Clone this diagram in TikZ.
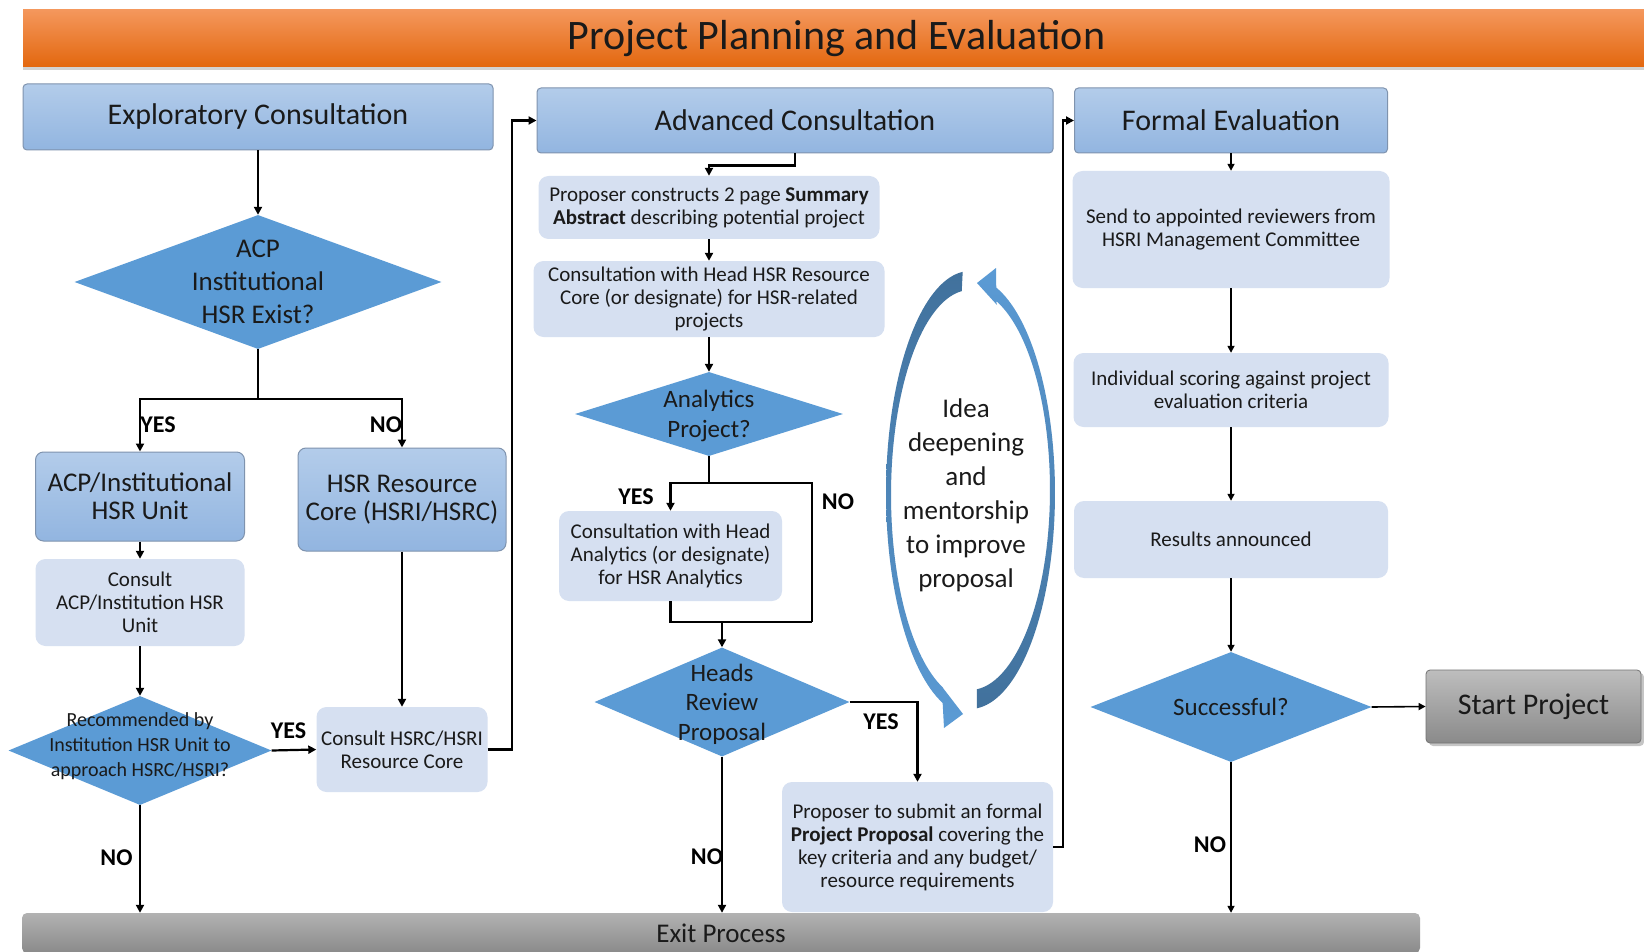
\documentclass[tikz,border=0pt]{standalone}
\usepackage{fontspec}
\setmainfont{Carlito}
\usetikzlibrary{shapes.geometric,arrows.meta,shadows,calc}
\definecolor{hdrtop}{HTML}{B3CCEA}
\definecolor{hdrbot}{HTML}{92B5E0}
\definecolor{hdrline}{HTML}{7F93AE}
\definecolor{lboxfill}{HTML}{D6E0F1}
\definecolor{diafill}{HTML}{5B9BD5}
\definecolor{cycdark}{HTML}{41719C}
\definecolor{cyclight}{HTML}{5B9BD5}
\definecolor{orgtop}{HTML}{F4975C}
\definecolor{orgmid}{HTML}{F47C2A}
\definecolor{orgbot}{HTML}{E3670E}
\definecolor{graytop}{HTML}{B2B2B2}
\definecolor{graybot}{HTML}{8A8A8A}
\definecolor{txt}{HTML}{1A1A1A}
\newcommand\myfs[2]{\fontsize{#1}{#2}\selectfont}
\begin{document}
\begin{tikzpicture}[x=1pt,y=-1pt,
  hdr/.style={rectangle, rounded corners=4pt, draw=hdrline, line width=1pt,
    top color=hdrtop, bottom color=hdrbot, inner sep=0pt, text=txt, font=\myfs{30}{34}},
  bbox/.style={hdr, rounded corners=8pt, align=center, font=\myfs{27}{28}},
  lbox/.style={rectangle, rounded corners=10pt, fill=lboxfill, inner sep=0pt,
    align=center, text=txt, font=\myfs{21}{23}},
  dia/.style={diamond, fill=diafill, inner sep=0pt},
  dlab/.style={inner sep=0pt, align=center, text=txt},
  lab/.style={inner sep=0pt, text=black, font=\bfseries\myfs{24}{24}},
  graybar/.style={rectangle, rounded corners=5pt, top color=graytop, bottom color=graybot,
    inner sep=0pt, text=txt, font=\myfs{27}{30}},
  startbox/.style={rectangle, rounded corners=4pt, draw=black!55, line width=0.8pt,
    top color=graytop!85!white, bottom color=graybot, inner sep=0pt, text=txt,
    font=\myfs{30}{32}, drop shadow={shadow xshift=3pt, shadow yshift=-3pt, opacity=0.45}},
  arr/.style={line width=2.2pt, -{Triangle[length=8pt,width=8pt]}},
  ln/.style={line width=2.2pt},
  arrt/.style={line width=1.6pt, -{Triangle[length=7pt,width=7pt]}}
]
\fill[white] (0,0) rectangle (1644,952);
\useasboundingbox (0,0) rectangle (1644,952);

% title
\node[rectangle, top color=orgtop, middle color=orgmid, bottom color=orgbot,
  minimum width=1627pt, minimum height=57pt, inner sep=0pt, text=txt, font=\myfs{42}{44},
  drop shadow={shadow xshift=0pt, shadow yshift=-3pt, opacity=0.35}]
  (title) at (836.5,38.5) {Project Planning and Evaluation};

% headers
\node[hdr, minimum width=470pt, minimum height=66pt] (exp) at (258,117) {Exploratory Consultation};
\node[hdr, minimum width=516pt, minimum height=65pt] (adv) at (795,120.5) {Advanced Consultation};
\node[hdr, minimum width=313pt, minimum height=65pt] (fe) at (1231,120.5) {Formal Evaluation};

% exit bar
\node[graybar, minimum width=1398pt, minimum height=40pt] (exit) at (721,933) {Exit Process};

% left column
\node[dia, minimum width=367pt, minimum height=134pt,
  label={[dlab, font=\myfs{27}{33}]center:ACP\\Institutional\\HSR Exist?}] (d1) at (258,282) {};
\node[bbox, minimum width=209pt, minimum height=89pt] (unit) at (140,496.5) {ACP/Institutional\\HSR Unit};
\node[bbox, minimum width=208pt, minimum height=103pt] (core) at (402,499.5) {HSR Resource\\Core (HSRI/HSRC)};
\node[lbox, minimum width=209pt, minimum height=87pt] (c1) at (140,602.5) {Consult\\ACP/Institution HSR\\Unit};
\node[dia, minimum width=263pt, minimum height=109pt,
  label={[dlab, yshift=4pt, font=\myfs{20}{25}]center:Recommended by\\Institution HSR Unit to\\approach HSRC/HSRI?}] (d2) at (140,750.5) {};
\node[lbox, minimum width=171pt, minimum height=85pt] (c2) at (402,749.5) {Consult HSRC/HSRI\\Resource Core};

% middle column
\node[lbox, minimum width=341pt, minimum height=63pt] (sum) at (709,207.5)
  {Proposer constructs 2 page \textbf{Summary}\\\textbf{Abstract} describing potential project};
\node[lbox, minimum width=351pt, minimum height=76pt] (h1) at (709,299)
  {Consultation with Head HSR Resource\\Core (or designate) for HSR-related\\projects};
\node[dia, minimum width=268pt, minimum height=84pt,
  label={[dlab, yshift=-2pt, font=\myfs{25}{30}]center:Analytics\\Project?}] (d3) at (709,414) {};
\node[lbox, minimum width=223pt, minimum height=90pt] (an) at (670.5,556)
  {Consultation with Head\\Analytics (or designate)\\for HSR Analytics};
\coordinate (jr) at (812,622);
\node[dia, minimum width=255pt, minimum height=109pt,
  label={[dlab, yshift=-2pt, font=\myfs{25}{29.5}]center:Heads\\Review\\Proposal}] (d4) at (722,702) {};
\node[lbox, minimum width=271pt, minimum height=130pt] (prop) at (917.5,847)
  {Proposer to submit an formal\\\textbf{Project Proposal} covering the\\key criteria and any budget/\\resource requirements};

% cycle arrows
\shade[top color=cycdark, bottom color=cyclight]
  plot[domain=95:251, samples=70] ({970+84*cos(\x)}, {493-222*sin(\x)})
  -- (944,728) -- (963,714) -- (943,688)
  -- plot[domain=250:96, samples=70] ({970+79*cos(\x)}, {495-205*sin(\x)})
  -- cycle;
\shade[top color=cyclight, bottom color=cycdark]
  plot[domain=-85.3:72, samples=70] ({970+85*cos(\x)}, {493-216*sin(\x)})
  -- (996,268) -- (977,283) -- (997,305)
  -- plot[domain=71:-85, samples=70] ({970+80*cos(\x)}, {490-200*sin(\x)})
  -- cycle;
\node[inner sep=0pt, align=center, text=txt, font=\myfs{27}{34}] (idea) at (966,495.5)
  {Idea\\deepening\\and\\mentorship\\to improve\\proposal};

% right column
\node[lbox, minimum width=317pt, minimum height=117pt] (send) at (1231,229.5)
  {Send to appointed reviewers from\\HSRI Management Committee};
\node[lbox, minimum width=315pt, minimum height=74pt] (ind) at (1231,390)
  {Individual scoring against project\\evaluation criteria};
\node[lbox, minimum width=314pt, minimum height=77pt] (res) at (1231,539.5) {Results announced};
\node[dia, minimum width=281pt, minimum height=110pt,
  label={[dlab, font=\myfs{25}{30}]center:Successful?}] (d5) at (1231,707) {};
\node[startbox, minimum width=215pt, minimum height=73pt] (start) at (1533.5,706.5) {Start Project};

% connectors left
\draw[arr] (exp.south) -- (d1.north);
\draw[arr] (d1.south) -- ++(0,50) -| (unit.north);
\draw[arr] (d1.south) -- ++(0,50) -| (core.north);
\draw[arr] (unit.south) -- (c1.north);
\draw[arr] (c1.south) -- (d2.north);
\draw[arr] (core.south) -- (c2.north);
\draw[arr] (d2.east) -- (c2.west);
\draw[arr] (c2.east) -- ++(24,0) |- (adv.west);
\draw[arr] (d2.south) -- (d2.south |- exit.north);

% connectors middle
\draw[arr] (adv.south) -- ++(0,12) -| (sum.north);
\draw[arr] (sum.south) -- (h1.north);
\draw[arr] (h1.south) -- (d3.north);
\draw[arr] (d3.south) -- ++(0,27) -| (an.north);
\draw[ln] (d3.south) -- ++(0,27) -| (jr);
\draw[ln] (an.south) |- (jr);
\draw[arr] (d4.north |- jr) -- (d4.north);
\draw[arr] (d4.east) -| (prop.north);
\draw[arr] (d4.south) -- (d4.south |- exit.north);
\draw[arr] (prop.east) -- ++(10,0) |- (fe.west);

% connectors right
\draw[arrt] (fe.south) -- (send.north);
\draw[arrt] (send.south) -- (ind.north);
\draw[arrt] (ind.south) -- (res.north);
\draw[arrt] (res.south) -- (d5.north);
\draw[arrt] (d5.east) -- (start.west);
\draw[arrt] (d5.south) -- (d5.south |- exit.north);

% labels
\node[lab] (yes1) at (158,425) {YES};
\node[lab] (no1) at (386,425) {NO};
\node[lab] (yes2) at (288.5,731) {YES};
\node[lab] (no2) at (116.5,858) {NO};
\node[lab] (yes3) at (636,497) {YES};
\node[lab] (no3) at (838,502) {NO};
\node[lab] (yes4) at (881,722) {YES};
\node[lab] (no4) at (707,857) {NO};
\node[lab] (no5) at (1210,845) {NO};
\end{tikzpicture}
\end{document}
